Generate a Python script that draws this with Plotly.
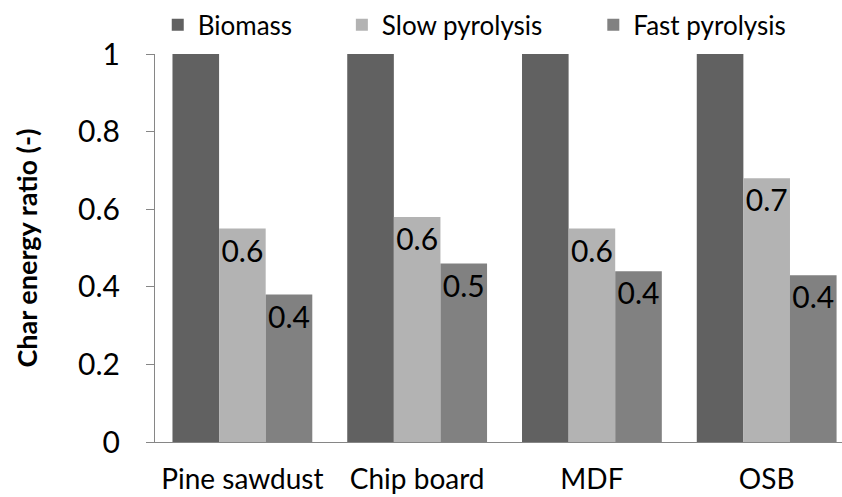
import plotly.graph_objects as go

categories = ["Pine sawdust", "Chip board", "MDF", "OSB"]
biomass = [1.0, 1.0, 1.0, 1.0]
slow_pyrolysis = [0.55, 0.58, 0.55, 0.68]
fast_pyrolysis = [0.38, 0.46, 0.44, 0.43]

FONT = "Lato"
LBL = dict(size=30, color="black", family=FONT)
fig = go.Figure()
fig.add_trace(go.Bar(name="Biomass", x=categories, y=biomass, marker_color="#616161",
                     marker_line_width=0, legend="legend"))
fig.add_trace(go.Bar(name="Slow pyrolysis", x=categories, y=slow_pyrolysis, marker_color="#b3b3b3",
                     marker_line_width=0, texttemplate="%{y:.1f}", textposition="inside",
                     insidetextanchor="end", textfont=LBL, textangle=0, legend="legend2"))
fig.add_trace(go.Bar(name="Fast pyrolysis", x=categories, y=fast_pyrolysis, marker_color="#818181",
                     marker_line_width=0, texttemplate="%{y:.1f}", textposition="inside",
                     insidetextanchor="end", textfont=LBL, textangle=0, legend="legend3"))

leg_common = dict(orientation="h", xanchor="left", y=1.075, yanchor="middle",
                  font=dict(size=26, family=FONT, color="black"), bgcolor="rgba(0,0,0,0)")
fig.update_layout(
    width=842, height=497,
    margin=dict(l=155, r=0, t=54, b=55),
    paper_bgcolor="white", plot_bgcolor="white",
    barmode="group", bargap=0.2, bargroupgap=0,
    font=dict(family=FONT, color="black", size=22),
    showlegend=True,
    legend=dict(x=0.004, **leg_common),
    legend2=dict(x=0.272, **leg_common),
    legend3=dict(x=0.638, **leg_common),
    uniformtext=dict(minsize=30, mode="show"),
)
fig.update_yaxes(range=[0, 1], dtick=0.2, showgrid=False, showline=True, linecolor="#868686",
                 linewidth=1, ticks="outside", ticklen=8, tickcolor="#868686", automargin=False,
                 tickfont=dict(size=30, family=FONT), zeroline=False, ticklabelstandoff=20,
                 title=dict(text="<b>Char energy ratio (-)</b>", font=dict(size=27, family=FONT), standoff=32))
fig.update_xaxes(showgrid=False, showline=True, linecolor="#868686", linewidth=1, ticks="",
                 range=[-0.5, 3.431], automargin=False,
                 tickfont=dict(size=28, family=FONT), ticklabelstandoff=12)

fig.write_html("out.html", config={"displayModeBar": False},
               post_script="document.body.style.margin='0';document.body.style.overflow='hidden';")
